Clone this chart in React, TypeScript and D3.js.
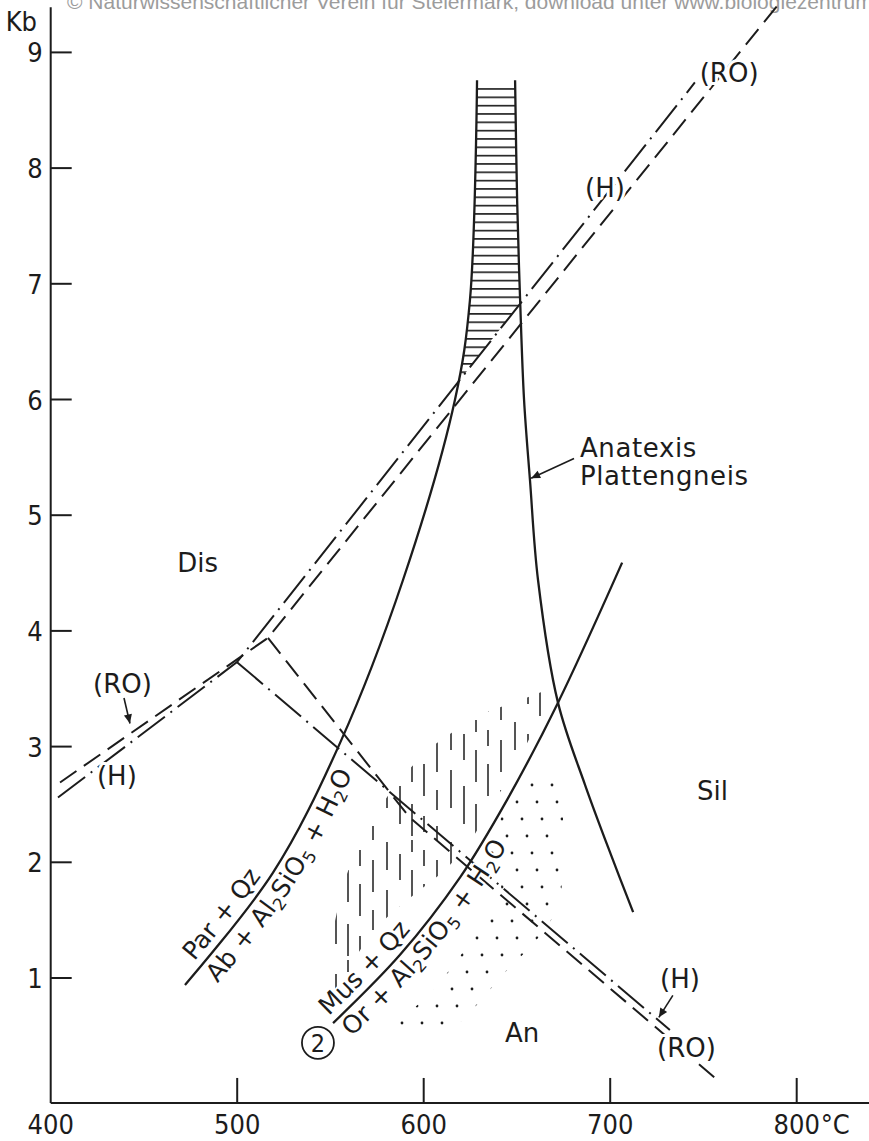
import React from "react";
import * as d3 from "d3";

const WIDTH = 869;
const HEIGHT = 1141;

// ---------- data (temperature °C, pressure kb) ----------
const tempLabelValues = [400, 500, 600, 700, 800];
const tempTickValues = [500, 600, 700, 800];
const pressureTicks = [1, 2, 3, 4, 5, 6, 7, 8, 9];
const tempExtent = [400, 839];
const pressureExtent = [-0.08, 9.39];

type Pt = [number, number];

// Par + Qz = Ab + Al2SiO5 + H2O  (continues as left edge of anatexis band)
const parQzCurve: Pt[] = [
  [472.0, 0.94], [519.2, 1.91], [555.1, 3.03], [588.9, 4.44],
  [616.8, 6.0], [624.8, 6.86], [628.6, 8.76],
];
// Anatexis Plattengneis (right edge of band)
const anatexisCurve: Pt[] = [
  [649.0, 8.76], [650.1, 7.72], [651.7, 6.86], [653.8, 6.0], [657.0, 5.3],
  [661.3, 4.44], [672.0, 3.38], [686.5, 2.67], [701.0, 2.04], [712.3, 1.57],
];
// Mus + Qz = Or + Al2SiO5 + H2O
const musQzCurve: Pt[] = [
  [551.4, 0.61], [587.3, 1.2], [619.5, 1.87], [644.7, 2.54], [672.0, 3.38], [706.4, 4.59],
];

// Al2SiO5 triple point systems
const holdawayKy: Pt[] = [[403.9, 2.56], [499.9, 3.73], [745.4, 8.74]];
const holdawayAndSil: Pt[] = [[499.9, 3.73], [732.0, 0.55]];
const roKy: Pt[] = [[405.0, 2.69], [516.5, 3.94], [796.4, 9.54]];
const roAndSil: Pt[] = [[516.5, 3.94], [592.3, 2.39], [758.9, 0.1]];

// shaded fields
const strokeField: Pt[] = [
  [550.8, 0.9], [551.3, 1.41], [556.7, 1.8], [563.7, 2.12], [574.4, 2.43],
  [587.8, 2.73], [603.4, 2.99], [619.5, 3.17], [635.6, 3.31], [651.7, 3.4],
  [669.4, 3.51], [663.9, 3.3], [654.8, 3.01], [644.7, 2.71], [633.9, 2.41],
  [623.7, 2.15], [611.4, 1.93], [598.0, 1.76], [584.6, 1.59], [572.3, 1.4],
  [563.1, 1.17], [557.8, 0.9],
];
const dotField: Pt[] = [
  [647.3, 2.62], [665.0, 2.78], [674.2, 2.71], [675.2, 2.02], [673.1, 1.63],
  [665.0, 1.41], [654.3, 1.22], [643.6, 1.05], [632.9, 0.85], [622.2, 0.65],
  [611.4, 0.53], [587.3, 0.51], [578.2, 0.55], [592.7, 0.71], [604.5, 0.88],
  [612.5, 1.04], [620.0, 1.2], [627.5, 1.37], [633.4, 1.55], [642.0, 1.69],
  [640.9, 1.92], [632.9, 2.06], [639.3, 2.3], [643.6, 2.47],
];

const fieldLabels = [
  { text: "Dis", T: 467.9, P: 4.51 },
  { text: "Sil", T: 746.5, P: 2.54 },
  { text: "An", T: 643.6, P: 0.45 },
  { text: "Anatexis", T: 683.8, P: 5.5 },
  { text: "Plattengneis", T: 683.8, P: 5.26 },
];
const sourceLabels = [
  { text: "(RO)", T: 748.0, P: 8.74 },
  { text: "(H)", T: 686.5, P: 7.75 },
  { text: "(RO)", T: 422.7, P: 3.46 },
  { text: "(H)", T: 424.8, P: 2.67 },
  { text: "(H)", T: 726.7, P: 0.91 },
  { text: "(RO)", T: 725.1, P: 0.32 },
];
const arrows: { from: Pt; to: Pt }[] = [
  { from: [439.3, 3.42], to: [442.5, 3.2] },
  { from: [733.6, 0.85], to: [726.1, 0.66] },
  { from: [680.6, 5.49], to: [657.6, 5.32] },
];
const reactionNumber = { text: "2", T: 543.3, P: 0.44 };

const watermark =
  "© Naturwissenschaftlicher Verein für Steiermark; download unter www.biologiezentrum.at";

// ---------- styling ----------
const INK = "#1c1c1c";
const FONT = "'DejaVu Sans', 'Noto Sans', sans-serif";
const NUMFONT = "'DejaVu Sans Condensed', 'Liberation Sans Narrow', 'DejaVu Sans', sans-serif";
const DASHED = "20 9";
const DASHDOT = "34 7 2 7";

export default function App() {
  const x = d3.scaleLinear().domain([400, 800]).range([50.7, 796.7]);
  const y = d3.scaleLinear().domain([1, 9]).range([978, 52.4]);

  const smooth = d3
    .line<Pt>()
    .x((d) => x(d[0]))
    .y((d) => y(d[1]))
    .curve(d3.curveCatmullRom.alpha(0.5));
  const straight = d3
    .line<Pt>()
    .x((d) => x(d[0]))
    .y((d) => y(d[1]));
  const closed = d3
    .line<Pt>()
    .x((d) => x(d[0]))
    .y((d) => y(d[1]))
    .curve(d3.curveLinearClosed);

  const parPath = smooth(parQzCurve) as string;
  const anaPath = smooth(anatexisCurve) as string;
  const musPath = smooth(musQzCurve) as string;
  const bandPath = parPath + "L" + anaPath.slice(1) + "Z";

  const kySil: Pt[] = [holdawayKy[1], holdawayKy[2]];
  const aboveH: Pt[] = [
    kySil[0],
    kySil[1],
    [kySil[1][0], pressureExtent[1] + 1],
    [kySil[0][0], pressureExtent[1] + 1],
  ];
  const bandTopY = y(parQzCurve[parQzCurve.length - 1][1]);

  const x0 = x(tempExtent[0]);
  const y0 = y(pressureExtent[0]);

  const subSize = 17;
  const labelStyle = {
    fontFamily: FONT,
    fontSize: 26,
    fill: INK,
    paintOrder: "stroke" as const,
    stroke: "#fff",
    strokeWidth: 6,
    strokeLinejoin: "round" as const,
  };

  const strokeCols: { x: number; segs: [number, number][] }[] = [
    { x: 3, segs: [[2, 30], [50, 88]] },
    { x: 16, segs: [[14, 40], [66, 104]] },
    { x: 28, segs: [[0, 12], [30, 62], [84, 116]] },
    { x: 40, segs: [[10, 26], [44, 76], [96, 112]] },
    { x: 53, segs: [[20, 52], [70, 90], [106, 120]] },
  ];

  return (
    <svg
      width={WIDTH}
      height={HEIGHT}
      style={{ position: "absolute", left: 0, top: 0, background: "#fff" }}
    >
      <defs>
        <marker
          id="ah"
          viewBox="0 0 10 10"
          refX={10}
          refY={5}
          markerWidth={12}
          markerHeight={9}
          markerUnits="userSpaceOnUse"
          orient="auto"
        >
          <path d="M0,0.5 L10,5 L0,9.5 z" fill={INK} />
        </marker>
        <pattern id="hatch" patternUnits="userSpaceOnUse" width={40} height={8.33} y={bandTopY + 8}>
          <line x1={0} x2={40} y1={0.8} y2={0.8} stroke={INK} strokeWidth={1.6} />
        </pattern>
        <pattern id="strokes" patternUnits="userSpaceOnUse" width={64} height={120}>
          <g stroke={INK} strokeWidth={1.5}>
            {strokeCols.map((c) =>
              c.segs.map((s, j) => (
                <line key={c.x + "-" + j} x1={c.x} x2={c.x} y1={s[0]} y2={s[1]} />
              ))
            )}
          </g>
        </pattern>
        <pattern id="dots" patternUnits="userSpaceOnUse" width={20} height={68}>
          <g fill={INK}>
            <circle cx={2} cy={3} r={1.4} />
            <circle cx={7} cy={20} r={1.4} />
            <circle cx={12} cy={37} r={1.4} />
            <circle cx={17} cy={54} r={1.4} />
          </g>
        </pattern>
        <clipPath id="bandClip">
          <path d={bandPath} />
        </clipPath>
        <clipPath id="aboveHClip">
          <path d={closed(aboveH) as string} />
        </clipPath>
        <path id="parText" d={parPath} />
        <path id="musText" d={musPath} />
      </defs>

      <rect width={WIDTH} height={HEIGHT} fill="#fff" />

      <text x={67} y={9} fontFamily="'Liberation Sans', Arial, sans-serif" fontSize={21} fill="#9c9c9c">
        {watermark}
      </text>

      {/* shaded fields */}
      <g clipPath="url(#bandClip)">
        <rect
          x={x(600)}
          y={bandTopY + 4}
          width={x(680) - x(600)}
          height={y(5) - bandTopY}
          fill="url(#hatch)"
          clipPath="url(#aboveHClip)"
        />
      </g>
      <path d={closed(strokeField) as string} fill="url(#strokes)" />
      <path d={closed(dotField) as string} fill="url(#dots)" />

      {/* axes */}
      <g stroke={INK} strokeWidth={2} fill="none">
        <line x1={x0} x2={x0} y1={y(pressureExtent[1])} y2={y0} />
        <line x1={x0} x2={x(tempExtent[1])} y1={y0} y2={y0} />
        {pressureTicks.map((p) => (
          <line key={"pt" + p} x1={x0} x2={x0 + 21} y1={y(p)} y2={y(p)} />
        ))}
        {tempTickValues.map((t) => (
          <line key={"tt" + t} x1={x(t)} x2={x(t)} y1={y0} y2={y0 - 25} />
        ))}
      </g>
      <g fontFamily={NUMFONT} fontSize={27} fill={INK}>
        {pressureTicks.map((p) => (
          <text key={"pl" + p} x={x0 - 8} y={y(p) + 10} textAnchor="end">
            {p}
          </text>
        ))}
        <text x={x0 - 45} y={31} textAnchor="start">Kb</text>
        {tempLabelValues.map((t) => (
          <text key={"tl" + t} x={x(t)} y={y0 + 31} textAnchor="middle">
            {t}
          </text>
        ))}
        <text x={x(800) + 24} y={y0 + 31} textAnchor="start">°C</text>
      </g>

      {/* Al2SiO5 reaction lines */}
      <g fill="none" stroke={INK} strokeWidth={2}>
        <path d={straight(holdawayKy) as string} strokeDasharray={DASHDOT} />
        <path d={straight(holdawayAndSil) as string} strokeDasharray={DASHDOT} />
        <path d={straight(roKy) as string} strokeDasharray={DASHED} />
        <path d={straight(roAndSil) as string} strokeDasharray={DASHED} />
      </g>

      {/* solid reaction curves */}
      <g fill="none" stroke={INK} strokeWidth={2.3}>
        <path d={parPath} />
        <path d={anaPath} />
        <path d={musPath} />
      </g>

      {/* arrows */}
      <g stroke={INK} strokeWidth={1.6}>
        {arrows.map((a, i) => (
          <line
            key={"ar" + i}
            x1={x(a.from[0])}
            y1={y(a.from[1])}
            x2={x(a.to[0])}
            y2={y(a.to[1])}
            markerEnd="url(#ah)"
          />
        ))}
      </g>

      {/* labels along curves */}
      <text {...labelStyle} fontSize={25} strokeWidth={4}>
        <textPath href="#parText" startOffset={24}>
          <tspan dy={-8}>Par + Qz</tspan>
        </textPath>
      </text>
      <text {...labelStyle} fontSize={25} strokeWidth={4}>
        <textPath href="#parText" startOffset={22}>
          <tspan dy={24}>{"Ab + Al"}</tspan>
          <tspan dy={5} fontSize={subSize}>2</tspan>
          <tspan dy={-5}>SiO</tspan>
          <tspan dy={5} fontSize={subSize}>5</tspan>
          <tspan dy={-5}>{" + H"}</tspan>
          <tspan dy={5} fontSize={subSize}>2</tspan>
          <tspan dy={-5}>O</tspan>
        </textPath>
      </text>
      <text {...labelStyle} fontSize={25} strokeWidth={4}>
        <textPath href="#musText" startOffset={2}>
          <tspan dy={-8}>Mus + Qz</tspan>
        </textPath>
      </text>
      <text {...labelStyle} fontSize={25} strokeWidth={4}>
        <textPath href="#musText" startOffset={4}>
          <tspan dy={23}>{"Or + Al"}</tspan>
          <tspan dy={5} fontSize={subSize}>2</tspan>
          <tspan dy={-5}>SiO</tspan>
          <tspan dy={5} fontSize={subSize}>5</tspan>
          <tspan dy={-5}>{" + H"}</tspan>
          <tspan dy={5} fontSize={subSize}>2</tspan>
          <tspan dy={-5}>O</tspan>
        </textPath>
      </text>

      {/* field & source labels */}
      {fieldLabels.map((l, i) => (
        <text key={"fl" + i} {...labelStyle} x={x(l.T)} y={y(l.P)} letterSpacing={l.text.length > 5 ? 0.6 : 0}>
          {l.text}
        </text>
      ))}
      {sourceLabels.map((l, i) => (
        <text key={"sl" + i} {...labelStyle} x={x(l.T)} y={y(l.P)}>
          {l.text}
        </text>
      ))}

      {/* reaction number */}
      <circle
        cx={x(reactionNumber.T)}
        cy={y(reactionNumber.P)}
        r={16}
        fill="#fff"
        stroke={INK}
        strokeWidth={1.8}
      />
      <text
        x={x(reactionNumber.T)}
        y={y(reactionNumber.P) + 9}
        textAnchor="middle"
        fontFamily={NUMFONT}
        fontSize={25}
        fill={INK}
      >
        {reactionNumber.text}
      </text>
    </svg>
  );
}
